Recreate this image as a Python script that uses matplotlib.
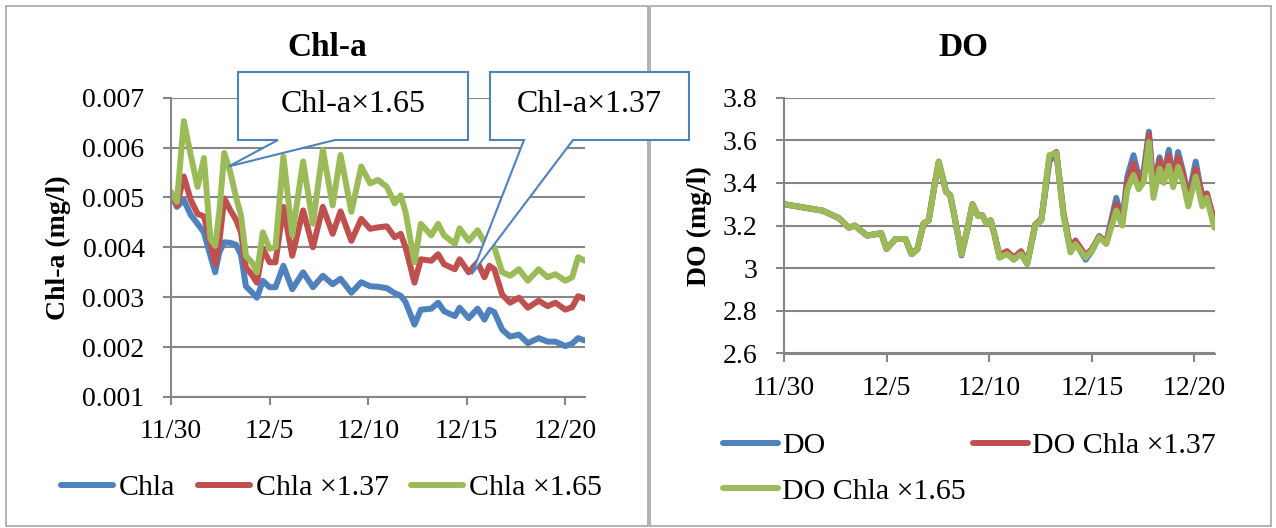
import numpy as np
import matplotlib
matplotlib.use("Agg")
import matplotlib.pyplot as plt
from matplotlib.patches import Rectangle, Polygon

plt.rcParams['font.family'] = ['Liberation Serif', 'DejaVu Serif']

W, H = 1276, 528

# ---------------- data ----------------
# days elapsed since 11/30
chl_days = [0, 0.3, 0.65, 1.0, 1.35, 1.67, 2.0, 2.24, 2.45, 2.7,
            3.0, 3.3, 3.55, 3.8, 4.1, 4.36, 4.66, 5.0, 5.3, 5.7,
            6.15, 6.7, 7.2, 7.7, 8.2, 8.6, 9.15, 9.65, 10.1, 10.5,
            10.95, 11.35, 11.65, 11.9, 12.35, 12.67, 13.2, 13.55, 13.85, 14.4,
            14.64, 15.1, 15.55, 15.9, 16.15, 16.4, 16.8, 17.2, 17.65, 18.1,
            18.65, 19.1, 19.5, 20.0, 20.35, 20.65, 21.0]

chla = [0.00508, 0.00481, 0.00495, 0.00465, 0.00447, 0.00430, 0.00383, 0.00350, 0.00390, 0.00410,
        0.00409, 0.00405, 0.00385, 0.00322, 0.00310, 0.00299, 0.00333, 0.00320, 0.00320, 0.00363,
        0.00316, 0.00350, 0.00320, 0.00343, 0.00326, 0.00337, 0.00309, 0.00330, 0.00322, 0.00321,
        0.00318, 0.00308, 0.00303, 0.00290, 0.00245, 0.00275, 0.00277, 0.00289, 0.00272, 0.00262,
        0.00279, 0.00258, 0.00277, 0.00255, 0.00275, 0.00270, 0.00235, 0.00221, 0.00225, 0.00208,
        0.00218, 0.00211, 0.00211, 0.00202, 0.00207, 0.00218, 0.00213]

chla_137 = [0.00510, 0.00484, 0.00542, 0.00495, 0.00467, 0.00462, 0.00410, 0.00366, 0.00410, 0.00498,
            0.00475, 0.00455, 0.00430, 0.00360, 0.00345, 0.00329, 0.00397, 0.00370, 0.00370, 0.00481,
            0.00383, 0.00474, 0.00400, 0.00481, 0.00427, 0.00472, 0.00413, 0.00457, 0.00437, 0.00440,
            0.00442, 0.00420, 0.00427, 0.00400, 0.00329, 0.00376, 0.00373, 0.00386, 0.00366, 0.00356,
            0.00376, 0.00350, 0.00370, 0.00340, 0.00363, 0.00356, 0.00305, 0.00289, 0.00299, 0.00279,
            0.00293, 0.00282, 0.00289, 0.00275, 0.00280, 0.00302, 0.00297]

chla_165 = [0.00511, 0.00491, 0.00653, 0.00585, 0.00521, 0.00579, 0.00417, 0.00403, 0.00470, 0.00589,
            0.00552, 0.00500, 0.00464, 0.00383, 0.00370, 0.00350, 0.00430, 0.00397, 0.00400, 0.00582,
            0.00424, 0.00572, 0.00447, 0.00595, 0.00484, 0.00585, 0.00471, 0.00562, 0.00528, 0.00535,
            0.00521, 0.00488, 0.00504, 0.00470, 0.00370, 0.00447, 0.00424, 0.00447, 0.00424, 0.00407,
            0.00438, 0.00413, 0.00434, 0.00410, 0.00410, 0.00400, 0.00350, 0.00343, 0.00356, 0.00333,
            0.00356, 0.00340, 0.00346, 0.00333, 0.00340, 0.00380, 0.00373]

do_days = [0, 1.88, 2.67, 3.16, 3.45, 3.75, 4.05, 4.74, 5.0, 5.43,
           5.92, 6.22, 6.5, 6.8, 7.05, 7.3, 7.54, 7.9, 8.1, 8.3,
           8.65, 8.94, 9.18, 9.44, 9.67, 9.87, 10.07, 10.27, 10.5, 10.86,
           11.2, 11.55, 11.85, 12.24, 12.54, 12.93, 13.27, 13.62, 13.96, 14.2,
           14.7, 15.0, 15.36, 15.7, 16.19, 16.48, 16.73, 17.03, 17.28, 17.53,
           17.78, 18.0, 18.3, 18.5, 18.75, 18.96, 19.2, 19.45, 19.7, 20.06,
           20.38, 20.6, 20.97]

do_base = [3.300, 3.270, 3.235, 3.190, 3.200, 3.176, 3.153, 3.164, 3.090, 3.137,
           3.137, 3.066, 3.090, 3.210, 3.224, 3.370, 3.495, 3.358, 3.342, 3.247,
           3.060, 3.184, 3.300, 3.247, 3.247, 3.210, 3.224, 3.153, 3.050, 3.070,
           3.040, 3.070, 3.020, 3.200, 3.225, 3.500, 3.540, 3.250, 3.080, 3.120,
           3.040, 3.080, 3.150, 3.120, 3.330, 3.220, 3.430, 3.530, 3.430, 3.460,
           3.640, 3.380, 3.520, 3.430, 3.555, 3.410, 3.545, 3.450, 3.330, 3.500,
           3.330, 3.350, 3.220]

do_137 = [3.300, 3.270, 3.235, 3.190, 3.200, 3.176, 3.153, 3.164, 3.090, 3.137,
          3.137, 3.066, 3.090, 3.210, 3.224, 3.370, 3.500, 3.358, 3.342, 3.247,
          3.070, 3.184, 3.300, 3.247, 3.247, 3.210, 3.224, 3.153, 3.060, 3.080,
          3.050, 3.080, 3.025, 3.205, 3.230, 3.520, 3.545, 3.260, 3.090, 3.130,
          3.060, 3.090, 3.150, 3.120, 3.300, 3.210, 3.400, 3.490, 3.410, 3.440,
          3.625, 3.360, 3.506, 3.420, 3.530, 3.400, 3.520, 3.440, 3.310, 3.467,
          3.340, 3.350, 3.220]

do_165 = [3.300, 3.270, 3.235, 3.190, 3.200, 3.176, 3.153, 3.164, 3.090, 3.137,
          3.137, 3.066, 3.090, 3.210, 3.224, 3.370, 3.500, 3.358, 3.342, 3.247,
          3.066, 3.184, 3.300, 3.247, 3.247, 3.210, 3.224, 3.153, 3.050, 3.066,
          3.042, 3.066, 3.020, 3.200, 3.224, 3.530, 3.540, 3.247, 3.074, 3.113,
          3.050, 3.082, 3.145, 3.113, 3.270, 3.200, 3.370, 3.437, 3.370, 3.405,
          3.590, 3.330, 3.467, 3.400, 3.480, 3.380, 3.475, 3.400, 3.290, 3.430,
          3.290, 3.330, 3.190]

date_ticks = [0, 5, 10, 15, 20]
date_labels = ["11/30", "12/5", "12/10", "12/15", "12/20"]

chl_ticks = [0.001, 0.002, 0.003, 0.004, 0.005, 0.006, 0.007]
chl_tick_labels = ["0.001", "0.002", "0.003", "0.004", "0.005", "0.006", "0.007"]
do_ticks = [2.6, 2.8, 3.0, 3.2, 3.4, 3.6, 3.8]
do_tick_labels = ["2.6", "2.8", "3", "3.2", "3.4", "3.6", "3.8"]

chl_names = ["Chla", "Chla \u00d71.37", "Chla \u00d71.65"]
do_names = ["DO", "DO Chla \u00d71.37", "DO Chla \u00d71.65"]

# ---------------- styling ----------------
BLUE, RED, GREEN = "#4F81BD", "#C0504D", "#9BBB59"
GRID = "#868686"
FRAME = "#A6A6A6"
LW = 4.3

fig = plt.figure(figsize=(W / 100, H / 100), dpi=100)


def px_rect(l, t, r, b):
    return [l / W, 1 - b / H, (r - l) / W, (b - t) / H]


def fig_xy(x, y):
    return (x / W, 1 - y / H)


# panel frames
for l, t, r, b in [(6, 6, 648, 526), (650, 6, 1271, 526)]:
    fig.add_artist(Rectangle(fig_xy(l, b), (r - l) / W, (b - t) / H,
                             transform=fig.transFigure, fill=False,
                             edgecolor=FRAME, linewidth=1.2, zorder=0))

ax1 = fig.add_axes(px_rect(171, 97.6, 585, 397))
ax2 = fig.add_axes(px_rect(784, 97.6, 1215, 353.5))


def style_axes(ax, ticks, labels):
    ax.set_xlim(0, 21)
    ax.set_ylim(ticks[0], ticks[-1])
    ax.set_yticks(ticks)
    ax.set_yticklabels(labels)
    ax.set_xticks(date_ticks)
    ax.set_xticklabels(date_labels)
    for s in ("top", "right"):
        ax.spines[s].set_visible(False)
    for s in ("left", "bottom"):
        ax.spines[s].set_color(GRID)
        ax.spines[s].set_linewidth(1.5)
    ax.grid(axis="y", color=GRID, linewidth=1.5)
    ax.set_axisbelow(True)
    ax.tick_params(axis="both", direction="out", length=6, width=1.5,
                   color=GRID, labelsize=20)
    ax.tick_params(axis="y", pad=13)
    ax.tick_params(axis="x", pad=10)
    ax.patch.set_alpha(0)


style_axes(ax1, chl_ticks, chl_tick_labels)
style_axes(ax2, do_ticks, do_tick_labels)

line_kw = dict(linewidth=LW, solid_joinstyle="round", solid_capstyle="round")
h1 = [ax1.plot(chl_days, s, color=c, **line_kw)[0]
      for s, c in [(chla, BLUE), (chla_137, RED), (chla_165, GREEN)]]
h2 = [ax2.plot(do_days, s, color=c, **line_kw)[0]
      for s, c in [(do_base, BLUE), (do_137, RED), (do_165, GREEN)]]

# titles and axis labels
fig.text(327 / W, 1 - 47 / H, "Chl-a", ha="center", va="center",
         fontsize=24, fontweight="bold")
fig.text(963 / W, 1 - 47 / H, "DO", ha="center", va="center",
         fontsize=24, fontweight="bold")
fig.text(58 / W, 1 - 247.5 / H, "Chl-a (mg/l)", ha="center", va="center",
         rotation=90, fontsize=20, fontweight="bold")
fig.text(699 / W, 1 - 226.5 / H, "DO (mg/l)", ha="center", va="center",
         rotation=90, fontsize=20, fontweight="bold")

# legends
leg_kw = dict(frameon=False, fontsize=21.5, borderpad=0, borderaxespad=0,
              bbox_transform=fig.transFigure)
ax1.legend(h1, chl_names, loc="center left", bbox_to_anchor=fig_xy(61, 488),
           ncol=3, columnspacing=0.75, handlelength=1.74, handletextpad=0.2,
           **leg_kw)
ax2.legend([h2[0], h2[2], h2[1]], [do_names[0], do_names[2], do_names[1]],
           loc="center left", bbox_to_anchor=fig_xy(723, 468.5),
           ncol=2, columnspacing=0.25, labelspacing=0.62, handlelength=1.84,
           handletextpad=0.13, **leg_kw)


# callouts pointing at a data location on the Chl-a axes
def callout(box, base, tip_data, text):
    l, t, r, b = box
    fig.canvas.draw()
    tx, ty = ax1.transData.transform(tip_data)
    tip = (tx / W, ty / H)
    verts = [fig_xy(l, t), fig_xy(r, t), fig_xy(r, b), fig_xy(base[1], b),
             tip, fig_xy(base[0], b), fig_xy(l, b)]
    fig.add_artist(Polygon(verts, closed=True, transform=fig.transFigure,
                           facecolor="white", edgecolor=BLUE, linewidth=1.5,
                           zorder=10))
    fig.text((l + r) / 2 / W, 1 - ((t + b) / 2 - 1) / H, text, ha="center",
             va="center", fontsize=23, zorder=11)


callout((238, 72, 468, 140), (278, 335), (2.92, 0.00562), "Chl-a\u00d71.65")
callout((490, 72, 689, 140), (524, 573), (15.25, 0.00346), "Chl-a\u00d71.37")

fig.savefig("out.png", dpi=100)
